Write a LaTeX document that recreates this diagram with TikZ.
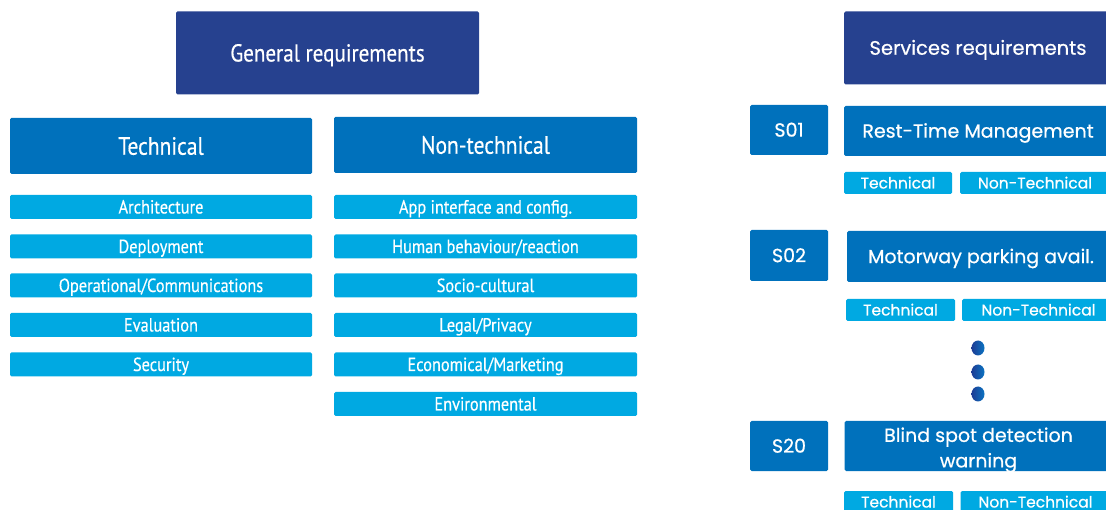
\documentclass[tikz,border=0pt]{standalone}
\usepackage{fontspec}
\usetikzlibrary{shapes.geometric}
\setmainfont[FakeStretch=0.86,FakeBold=0.4]{PT Sans}
\newfontfamily\svcfont[FakeBold=0.6]{Poppins}
\definecolor{darkb}{HTML}{26418F}
\definecolor{midb}{HTML}{0071BC}
\definecolor{lightb}{HTML}{00A9E2}
\definecolor{dotl}{HTML}{1D3C94}
\definecolor{dotr}{HTML}{0B74C2}
\begin{document}
\begin{tikzpicture}[x=1pt,y=-1pt,
  box/.style={rounded corners=1.5pt, inner sep=0pt, text=white, align=center},
  cap/.style={text height=#1, text depth=0pt},
  genbox/.style={box, cap=17pt, fill=darkb, minimum width=303pt, minimum height=83pt, font=\fontsize{24.5}{30}\selectfont},
  catbox/.style={box, cap=17.5pt, fill=midb, minimum width=302pt, minimum height=56pt, font=\fontsize{25}{28}\selectfont},
  itembox/.style={box, cap=13pt, fill=lightb, minimum width=302pt, minimum height=24pt, font=\fontsize{19}{22}\selectfont},
  svcbox/.style={box, cap=13.5pt, fill=darkb, minimum width=268pt, minimum height=73pt, font=\svcfont\fontsize{19.5}{22}\selectfont},
  sidbox/.style={box, cap=13.3pt, fill=midb, minimum width=78pt, minimum height=50pt, font=\svcfont\fontsize{19}{22}\selectfont},
  namebox/.style={box, fill=midb, minimum width=268pt, minimum height=50pt, font=\svcfont\fontsize{19}{25.5}\selectfont},
  tagbox/.style={box, cap=11pt, fill=lightb, minimum height=22pt, font=\svcfont\fontsize{15.5}{18}\selectfont},
  vdot/.style={ellipse, minimum width=13pt, minimum height=15pt, inner sep=0pt, left color=dotl, right color=dotr, draw=none}
]
\useasboundingbox (0,0) rectangle (1106,510);
\clip (0,0) rectangle (1106,510);
% left
\node[genbox] (gen) at (327.5,53) {General requirements};
\node[catbox] (tech) at (161,146) {Technical};
\node[catbox, minimum width=303pt] (nontech) at (485.5,145) {Non-technical};
\node[itembox] (t1) at (161,207) {Architecture};
\node[itembox] (t2) at (161,246.5) {Deployment};
\node[itembox] (t3) at (161,285.5) {Operational/Communications};
\node[itembox] (t4) at (161,325) {Evaluation};
\node[itembox] (t5) at (161,364.5) {Security};
\node[itembox, minimum width=303pt] (n1) at (485.5,207) {App interface and config.};
\node[itembox, minimum width=303pt] (n2) at (485.5,246.5) {Human behaviour/reaction};
\node[itembox, minimum width=303pt] (n3) at (485.5,285.5) {Socio-cultural};
\node[itembox, minimum width=303pt] (n4) at (485.5,325) {Legal/Privacy};
\node[itembox, minimum width=303pt] (n5) at (485.5,364.5) {Economical/Marketing};
\node[itembox, minimum width=303pt] (n6) at (485.5,404) {Environmental};
% right
\node[svcbox] (svc) at (978,48) {Services requirements};
\node[sidbox] (s01) at (789,130) {S01};
\node[namebox, cap=13.3pt] (rtm) at (978,131) {Rest-Time Management};
\node[tagbox, minimum width=108pt] (s01t) at (898,183) {Technical};
\node[tagbox, minimum width=150pt] (s01n) at (1035,183) {Non-Technical};
\node[sidbox, minimum height=51pt] (s02) at (789,255.5) {S02};
\node[namebox, cap=13.3pt, minimum height=51pt] (mpa) at (981,256.5) {Motorway parking avail.};
\node[tagbox, minimum width=109pt] (s02t) at (900.5,310) {Technical};
\node[tagbox, minimum width=153pt] (s02n) at (1038.5,310) {Non-Technical};
\node[vdot] (d1) at (978,348) {};
\node[vdot] (d2) at (978,372) {};
\node[vdot] (d3) at (978,394) {};
\node[sidbox] (s20) at (789,446) {S20};
\node[namebox] (bsd) at (978.5,446) {};
\node[box, font=\svcfont\fontsize{19}{25.5}\selectfont] (bsdtext) at (978.5,450) {Blind spot detection\\warning};
\node[tagbox, minimum width=109pt] (s20t) at (898.5,502) {Technical};
\node[tagbox, minimum width=150pt] (s20n) at (1035.5,502) {Non-Technical};
\end{tikzpicture}
\end{document}
